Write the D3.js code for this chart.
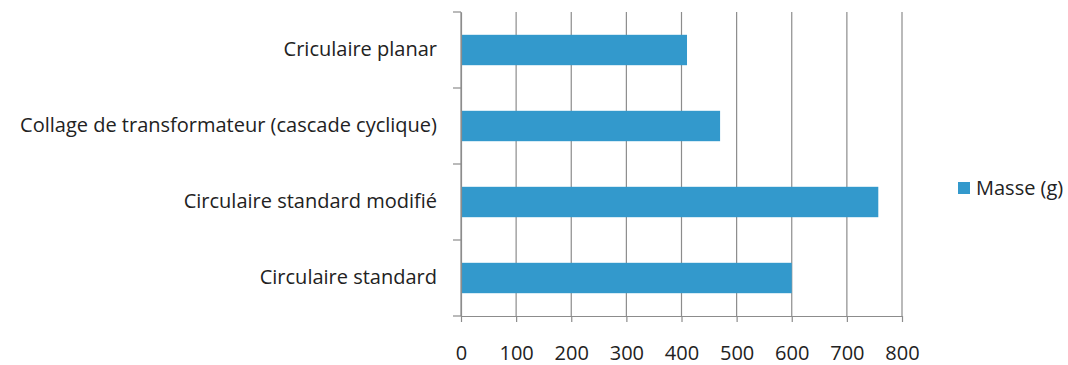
<!DOCTYPE html>
<html>
<head>
<meta charset="utf-8">
<script src="https://cdn.jsdelivr.net/npm/d3@7"></script>
<style>
  body { margin: 0; background: #fff; }
  text { font-family: "Open Sans", sans-serif; fill: #222; }
</style>
</head>
<body>
<svg id="svg1" width="1068" height="365"></svg>
<script>
// donnees
var categories = ["Criculaire planar", "Collage de transformateur (cascade cyclique)", "Circulaire standard modifié", "Circulaire standard"];
var masses = [410, 470, 757, 600];
var xTicks = [0, 100, 200, 300, 400, 500, 600, 700, 800];
var serieName = "Masse (g)";

function draw(){
  var svg = d3.select("#svg1");
  var g = svg.append("g");

  var left = 461, right = 902, plotTop = 12, plotBottom = 316;

  // axe X
  var scaleX = d3.scaleLinear().domain([0, 800]).range([left, right]);
  // axe Y (categories)
  var scaleY = d3.scaleBand().domain(categories).range([plotTop, plotBottom]);

  // grille verticale
  g.selectAll("line.grid").data(xTicks).enter().append("line")
    .attr("class", "grid")
    .attr("x1", function(d) { return scaleX(d); })
    .attr("x2", function(d) { return scaleX(d); })
    .attr("y1", plotTop).attr("y2", plotBottom)
    .attr("stroke", "#8c8c8c").attr("stroke-width", 1.2);

  // barres
  var barH = scaleY.bandwidth() * 0.4;
  g.selectAll("rect.bar").data(masses).enter().append("rect")
    .attr("class", "bar")
    .attr("x", scaleX(0))
    .attr("y", function(d, i) { return scaleY(categories[i]) + (scaleY.bandwidth() - barH) / 2; })
    .attr("width", function(d) { return scaleX(d) - scaleX(0); })
    .attr("height", barH)
    .attr("fill", "#3399cc");

  // axe Y
  var axisY = d3.axisLeft(scaleY).tickSize(0).tickPadding(24);
  var gAxisY = g.append("g").attr("transform", "translate(" + left + ",0)").call(axisY);
  gAxisY.select(".domain").attr("stroke", "#8c8c8c").attr("stroke-width", 1.2);
  gAxisY.selectAll("text").style("font-size", "20px").attr("fill", "#222");
  // petits traits entre categories
  var yEdges = [plotTop].concat(categories.map(function(c) { return scaleY(c) + scaleY.step(); }));
  g.selectAll("line.ytick").data(yEdges).enter().append("line")
    .attr("class", "ytick")
    .attr("x1", left - 8).attr("x2", left)
    .attr("y1", function(d) { return d; }).attr("y2", function(d) { return d; })
    .attr("stroke", "#8c8c8c").attr("stroke-width", 1.2);

  // axe X en bas
  var axisX = d3.axisBottom(scaleX).tickValues(xTicks).tickSize(6).tickPadding(24).tickFormat(d3.format("d"));
  var gAxisX = g.append("g").attr("transform", "translate(0," + plotBottom + ")").call(axisX);
  gAxisX.select(".domain").attr("stroke", "#8c8c8c").attr("stroke-width", 1.2).attr("d", "M" + left + ",0.5H" + right);
  gAxisX.selectAll(".tick line").attr("stroke", "#8c8c8c").attr("stroke-width", 1.2);
  gAxisX.selectAll("text").style("font-size", "20px").attr("fill", "#222");

  // legende
  var leg = svg.append("g").attr("transform", "translate(958,182)");
  leg.append("rect").attr("width", 12).attr("height", 12).attr("fill", "#3399cc");
  leg.append("text").attr("x", 18).attr("y", 6).attr("dy", "0.35em")
    .style("font-size", "20px").text(serieName);
}
draw();
</script>
</body>
</html>
